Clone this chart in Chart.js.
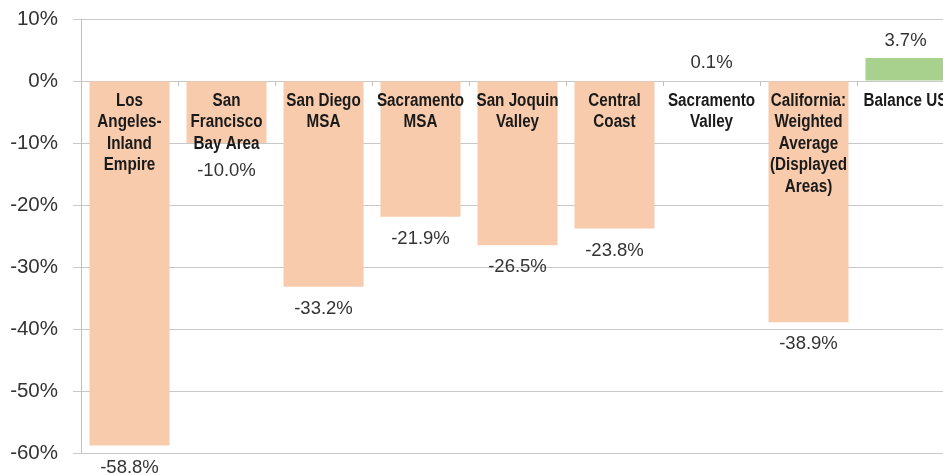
<!DOCTYPE html>
<html>
<head>
<meta charset="utf-8">
<script src="https://cdn.jsdelivr.net/npm/chart.js@4"></script>
<style>
  html, body { margin: 0; padding: 0; background: #fff; overflow: hidden; width: 943px; height: 475px; }
  #wrap { width: 954px; height: 475px; }
</style>
</head>
<body>
<div id="wrap"><canvas id="chart"></canvas></div>
<script>
// --- DATOS ---
const regionLabels = [
  ['Los', 'Angeles-', 'Inland', 'Empire'],
  ['San', 'Francisco', 'Bay Area'],
  ['San Diego', 'MSA'],
  ['Sacramento', 'MSA'],
  ['San Joquin', 'Valley'],
  ['Central', 'Coast'],
  ['Sacramento', 'Valley'],
  ['California:', 'Weighted', 'Average', '(Displayed', 'Areas)'],
  ['Balance US']
];
const changeValues = [-58.8, -10.0, -33.2, -21.9, -26.5, -23.8, 0.1, -38.9, 3.7];
const yTicks = [10, 0, -10, -20, -30, -40, -50, -60];

const NEG_COLOR = '#F7CBAC';
const POS_COLOR = '#A9D18E';
const LINE_H = 21.5;
const NARROW = 0.87; // texto de categoría algo condensado

// etiquetas de categoría dentro de las barras + valores
const labelPlugin = {
  id: 'barLabels',
  afterDatasetsDraw(chart) {
    const ctx = chart.ctx;
    const yScale = chart.scales.y;
    const zeroY = yScale.getPixelForValue(0);
    const meta = chart.getDatasetMeta(0);
    const area = chart.chartArea;
    ctx.save();

    // pequeñas marcas del eje x sobre la línea 0
    ctx.strokeStyle = '#bfbfbf';
    ctx.lineWidth = 1;
    const step = (area.right - area.left) / regionLabels.length;
    for (let i = 1; i < regionLabels.length; i++) {
      const x = Math.round(area.left + step * i) + 0.5;
      ctx.beginPath();
      ctx.moveTo(x, zeroY);
      ctx.lineTo(x, zeroY + 5);
      ctx.stroke();
    }

    meta.data.forEach((bar, i) => {
      const lines = regionLabels[i];
      ctx.textAlign = 'center';
      ctx.textBaseline = 'middle';

      ctx.save();
      ctx.font = 'bold 17.5px "Liberation Sans", Arial, sans-serif';
      ctx.fillStyle = '#1a1a1a';
      ctx.translate(bar.x, 0);
      ctx.scale(NARROW, 1);
      lines.forEach((ln, k) => {
        ctx.fillText(ln, 0, zeroY + 20 + k * LINE_H);
      });
      ctx.restore();
      const textBottom = zeroY + 20 + (lines.length - 1) * LINE_H + 8;

      const v = changeValues[i];
      ctx.font = '18.5px "Liberation Sans", Arial, sans-serif';
      ctx.fillStyle = '#333';
      let ly;
      if (v < 0) {
        ly = Math.max(bar.y + 22, textBottom + 19);
      } else {
        ly = bar.y - 17;
      }
      ctx.fillText(v.toFixed(1) + '%', bar.x, ly);
    });
    ctx.restore();
  }
};

new Chart(document.getElementById('chart'), {
  type: 'bar',
  data: {
    labels: regionLabels,
    datasets: [{
      data: changeValues,
      backgroundColor: changeValues.map(v => v < 0 ? NEG_COLOR : POS_COLOR),
      borderWidth: 0,
      barPercentage: 0.825,
      categoryPercentage: 1.0
    }]
  },
  options: {
    responsive: true,
    maintainAspectRatio: false,
    animation: false,
    devicePixelRatio: 1,
    layout: { padding: { top: 19, bottom: 22, left: 0, right: 0 } },
    plugins: { legend: { display: false }, tooltip: { enabled: false } },
    scales: {
      x: { display: false },
      y: {
        min: -60,
        max: 10,
        afterBuildTicks(scale) { scale.ticks = yTicks.map(v => ({ value: v })); },
        afterFit(scale) {
          scale.width = 81;
          scale.paddingTop = 0;
          scale.paddingBottom = 0;
        },
        grid: { color: '#c8c8c8', lineWidth: 1, tickLength: 8, drawTicks: true },
        border: { color: '#bfbfbf' },
        ticks: {
          padding: 15,
          color: '#333',
          font: { size: 20.5, family: '"Liberation Sans", Arial, sans-serif' },
          callback: v => v + '%'
        }
      }
    }
  },
  plugins: [labelPlugin]
});
</script>
</body>
</html>
